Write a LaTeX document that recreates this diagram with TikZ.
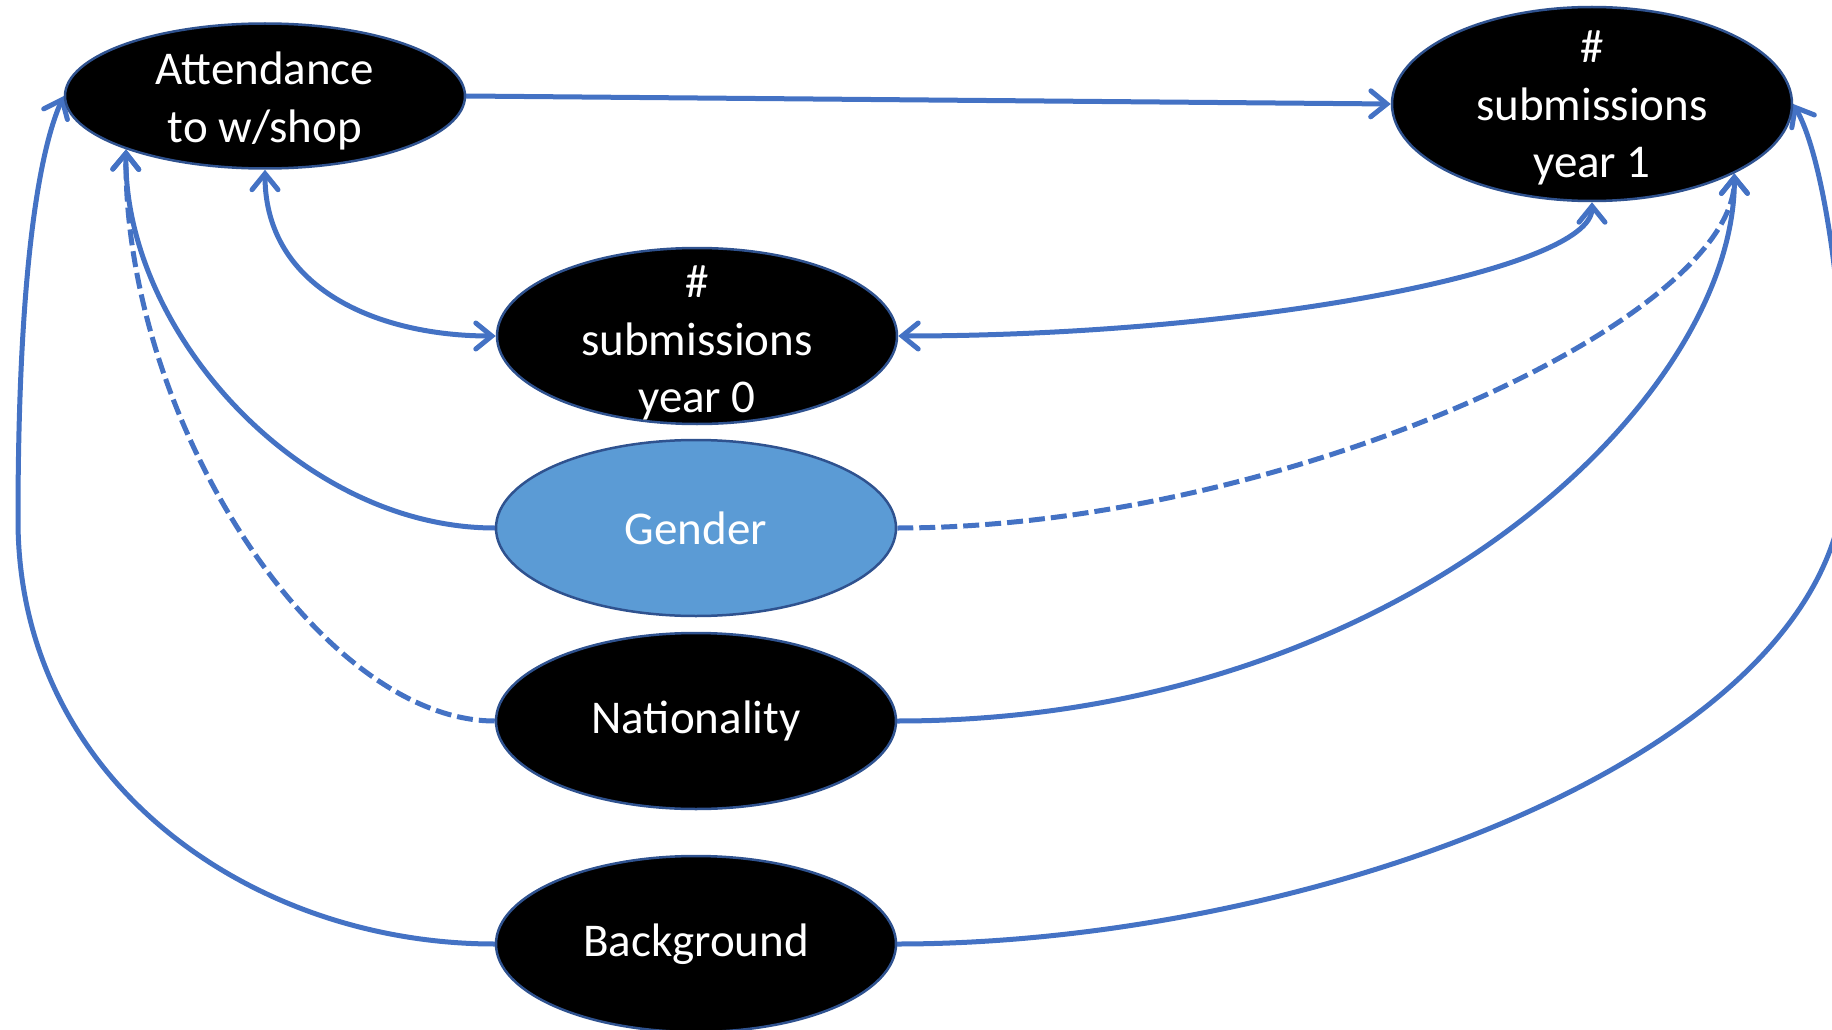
\documentclass[tikz,border=0pt]{standalone}
\usepackage{fontspec}
\setmainfont{Carlito}
\usetikzlibrary{shapes.geometric,arrows.meta,backgrounds}
\definecolor{edgeblue}{HTML}{4472C4}
\definecolor{rimblue}{HTML}{2F528F}
\definecolor{genderfill}{HTML}{5B9BD5}
\begin{document}
\begin{tikzpicture}[x=1pt,y=-1pt,
  oval/.style={ellipse, draw=rimblue, line width=2.5pt, fill=black, inner sep=0pt, minimum width=400pt},
  lbl/.style={text=white, font=\fontsize{47}{57.5}\selectfont, align=center, inner sep=0pt},
  conn/.style={draw=edgeblue, line width=5pt, line cap=round},
  barb/.tip={Straight Barb[length=16pt,width=26pt,line cap=round]},
  tipend/.style={-barb},
  tipboth/.style={barb-barb},
  dashline/.style={dash pattern=on 16pt off 6pt, line cap=butt}
]
\useasboundingbox (0,0) rectangle (1832,1030);

\node[oval, minimum height=145pt] (att) at (265,96) {};
\node[lbl] (att-t) at (265,101) {Attendance\\to w/shop};
\node[oval, minimum height=194pt] (s1) at (1592,104) {};
\node[lbl] (s1-t) at (1592,108) {\#\\submissions\\year 1};
\node[oval, minimum height=176pt] (s0) at (697,336) {};
\node[lbl] (s0-t) at (697,343) {\#\\submissions\\year 0};
\node[oval, minimum height=176pt, fill=genderfill] (gen) at (696,528) {};
\node[lbl] (gen-t) at (696,528) {Gender};
\node[oval, minimum height=176pt] (nat) at (696,721) {};
\node[lbl] (nat-t) at (696,721) {Nationality};
\node[oval, minimum height=176pt] (bg) at (696,944) {};
\node[lbl] (bg-t) at (696,944) {Background};

\begin{scope}[on background layer]
\draw[conn, tipend] (att.east) -- (s1.west);
\draw[conn, tipboth] (att.south) .. controls (265,290) and (380,336) .. (s0.west);
\draw[conn, tipboth] (s1.south) .. controls (1592,270) and (1250,336) .. (s0.east);
\draw[conn, tipend] (gen.west) .. controls (300,528) and (123,330) .. (att.201);
\draw[conn, dashline, tipend] (nat.west) .. controls (320,721) and (123,420) .. (att.201);
\draw[conn, dashline, tipend] (gen.east) .. controls (1280,528) and (1735,320) .. (s1.-26);
\draw[conn, tipend] (nat.east) .. controls (1400,721) and (1735,400) .. (s1.-26);
\draw[conn, tipend] (bg.west) .. controls (250,944) and (18,780) .. (18,520) .. controls (18,300) and (35,160) .. (att.west);
\draw[conn, tipend] (bg.east) .. controls (1300,944) and (1830,760) .. (1845,480) .. controls (1848,320) and (1825,160) .. (s1.east);
\end{scope}
\end{tikzpicture}
\end{document}
